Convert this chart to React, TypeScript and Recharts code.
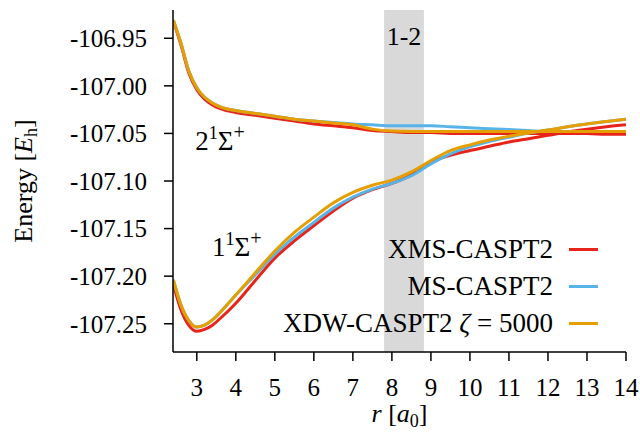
import React from 'react';
import { LineChart, Line, XAxis, YAxis, ReferenceArea, ReferenceDot, Legend, Label } from 'recharts';

const FONT = '"Liberation Serif", "Times New Roman", Tinos, serif';
const W = 640;
const H = 432;

// distances r [a0]
const rValues = [2.4, 2.6, 2.8, 3.0, 3.2, 3.4, 3.6, 4.0, 4.5, 5.0, 5.5, 6.0, 6.5, 7.0, 7.5, 8.0, 8.5, 9.0, 9.5, 10.0, 10.5, 11.0, 11.5, 12.0, 12.5, 13.0, 13.5, 14.0];

// XMS-CASPT2
const xmsLower = [-107.209, -107.236, -107.252, -107.258, -107.256, -107.2515, -107.2445, -107.2285, -107.2045, -107.181, -107.163, -107.147, -107.1315, -107.118, -107.109, -107.1025, -107.0935, -107.080, -107.073, -107.068, -107.0635, -107.059, -107.0555, -107.052, -107.0485, -107.0455, -107.043, -107.041];
const xmsUpper = [-106.932, -106.958, -106.987, -107.004, -107.014, -107.020, -107.024, -107.028, -107.031, -107.034, -107.037, -107.040, -107.042, -107.044, -107.047, -107.048, -107.049, -107.049, -107.050, -107.050, -107.050, -107.050, -107.050, -107.050, -107.050, -107.050, -107.051, -107.051];

// MS-CASPT2
const msLower = [-107.204, -107.231, -107.247, -107.2535, -107.2515, -107.246, -107.238, -107.2198, -107.1985, -107.177, -107.159, -107.1435, -107.1285, -107.117, -107.1085, -107.1025, -107.0945, -107.082, -107.0715, -107.064, -107.0585, -107.054, -107.0495, -107.0465, -107.043, -107.040, -107.0375, -107.035];
const msUpper = [-106.931, -106.956, -106.985, -107.002, -107.012, -107.018, -107.022, -107.026, -107.029, -107.032, -107.035, -107.037, -107.0385, -107.040, -107.041, -107.042, -107.042, -107.042, -107.043, -107.044, -107.045, -107.046, -107.047, -107.048, -107.048, -107.048, -107.048, -107.048];

// XDW-CASPT2 zeta = 5000
const xdwLower = [-107.204, -107.231, -107.247, -107.2535, -107.2515, -107.246, -107.238, -107.2198, -107.1965, -107.1735, -107.154, -107.138, -107.123, -107.112, -107.1045, -107.099, -107.0905, -107.0785, -107.068, -107.062, -107.057, -107.053, -107.0495, -107.0465, -107.043, -107.040, -107.0375, -107.035];
const xdwUpper = [-106.931, -106.956, -106.985, -107.002, -107.012, -107.018, -107.022, -107.026, -107.029, -107.032, -107.035, -107.037, -107.039, -107.041, -107.0455, -107.0475, -107.048, -107.048, -107.048, -107.048, -107.048, -107.048, -107.048, -107.048, -107.048, -107.048, -107.048, -107.048];

const xTicks = [3, 4, 5, 6, 7, 8, 9, 10, 11, 12, 13, 14];
const yTicks = [-107.25, -107.2, -107.15, -107.1, -107.05, -107.0, -106.95];
const xDomain = [2.39, 14];
const yDomain = [-107.2797, -106.9203];
const band = [7.8, 8.82];

const RED = '#e8231a';
const BLUE = '#56b4e9';
const ORANGE = '#e69f00';

const data = rValues.map((r, i) => ({
  r,
  xmsLower: xmsLower[i],
  xmsUpper: xmsUpper[i],
  msLower: msLower[i],
  msUpper: msUpper[i],
  xdwLower: xdwLower[i],
  xdwUpper: xdwUpper[i],
}));

const legendItems = [
  { key: 'xms', color: RED, label: <>XMS-CASPT2</> },
  { key: 'ms', color: BLUE, label: <>MS-CASPT2</> },
  { key: 'xdw', color: ORANGE, label: <>XDW-CASPT2 <i>ζ</i> = 5000</> },
];

const renderLegend = () => (
  <div style={{ fontFamily: FONT, fontSize: 27, color: '#000' }}>
    {legendItems.map((item) => (
      <div key={item.key} style={{ display: 'flex', alignItems: 'center', justifyContent: 'flex-end', height: 37, whiteSpace: 'nowrap' }}>
        <span>{item.label}</span>
        <span style={{ display: 'inline-block', width: 29, height: 3, background: item.color, marginLeft: 16 }} />
      </div>
    ))}
  </div>
);

const StateLabel = (props: any) => {
  const vb = props.viewBox || {};
  const x = (vb.x ?? 0) + (vb.width ?? 0) / 2;
  const y = (vb.y ?? 0) + (vb.height ?? 0) / 2;
  return (
    <text x={x} y={y} fontFamily={FONT} fontSize={27} fill="#000" textAnchor="start">
      {props.n}
      <tspan dy={-11} fontSize={18}>1</tspan>
      <tspan dy={11}>Σ</tspan>
      <tspan dy={-11} fontSize={20}>+</tspan>
    </text>
  );
};

const XTitle = (props: any) => {
  const vb = props.viewBox || {};
  const cx = vb.x + vb.width / 2;
  const y = vb.y + 70;
  return (
    <text x={cx} y={y} fontFamily={FONT} fontSize={26} fill="#000" textAnchor="middle">
      <tspan fontStyle="italic">r</tspan>
      <tspan> [</tspan>
      <tspan fontStyle="italic">a</tspan>
      <tspan dy={5} fontSize={18}>0</tspan>
      <tspan dy={-5}>]</tspan>
    </text>
  );
};

const YTitle = (props: any) => {
  const vb = props.viewBox || {};
  const cy = vb.y + vb.height / 2;
  const x = 32;
  return (
    <text x={x} y={cy} transform={`rotate(-90, ${x}, ${cy})`} fontFamily={FONT} fontSize={26} fill="#000" textAnchor="middle">
      <tspan>Energy [</tspan>
      <tspan fontStyle="italic">E</tspan>
      <tspan dy={5} fontSize={18}>h</tspan>
      <tspan dy={-5}>]</tspan>
    </text>
  );
};

export default function App() {
  const axisStyle = { stroke: '#000', strokeWidth: 1.5 };
  const tickStyle = { fill: '#000', fontSize: 25, fontFamily: FONT };
  return (
    <div style={{ position: 'absolute', left: 0, top: 0, width: W, height: H, background: '#fff', fontFamily: FONT }}>
      <LineChart width={W} height={H} data={data} margin={{ top: 10, right: 14, bottom: 0, left: 0 }}>
        <ReferenceArea
          x1={band[0]}
          x2={band[1]}
          y1={yDomain[0]}
          y2={yDomain[1]}
          fill="#d9d9d9"
          fillOpacity={1}
          stroke="none"
          ifOverflow="hidden"
          label={{ value: '1-2', position: 'insideTop', offset: 17, fill: '#000', fontSize: 26, fontFamily: FONT }}
        />
        <XAxis
          dataKey="r"
          type="number"
          domain={xDomain}
          ticks={xTicks}
          allowDataOverflow
          interval={0}
          height={80}
          tickSize={9}
          tickMargin={17}
          axisLine={axisStyle}
          tickLine={axisStyle}
          tick={tickStyle}
        >
          <Label content={XTitle} />
        </XAxis>
        <YAxis
          type="number"
          domain={yDomain}
          ticks={yTicks}
          allowDataOverflow
          interval={0}
          width={173}
          tickSize={9}
          tickMargin={17}
          axisLine={axisStyle}
          tickLine={axisStyle}
          tick={tickStyle}
          tickFormatter={(v: number) => v.toFixed(2)}
        >
          <Label content={YTitle} />
        </YAxis>
        <Line type="monotone" dataKey="xmsUpper" stroke={RED} strokeWidth={3} dot={false} isAnimationActive={false} />
        <Line type="monotone" dataKey="xmsLower" stroke={RED} strokeWidth={3} dot={false} isAnimationActive={false} />
        <Line type="monotone" dataKey="msUpper" stroke={BLUE} strokeWidth={3} dot={false} isAnimationActive={false} />
        <Line type="monotone" dataKey="msLower" stroke={BLUE} strokeWidth={3} dot={false} isAnimationActive={false} />
        <Line type="monotone" dataKey="xdwUpper" stroke={ORANGE} strokeWidth={3} dot={false} isAnimationActive={false} />
        <Line type="monotone" dataKey="xdwLower" stroke={ORANGE} strokeWidth={3} dot={false} isAnimationActive={false} />
        <ReferenceDot x={2.96} y={-107.0673} r={0} fill="none" stroke="none" label={<StateLabel n="2" />} />
        <ReferenceDot x={3.39} y={-107.1786} r={0} fill="none" stroke="none" label={<StateLabel n="1" />} />
        <Legend
          layout="horizontal"
          align="center"
          verticalAlign="middle"
          content={renderLegend}
          wrapperStyle={{ position: 'absolute', left: 200, top: 231, width: 398, height: 111 }}
        />
      </LineChart>
    </div>
  );
}
